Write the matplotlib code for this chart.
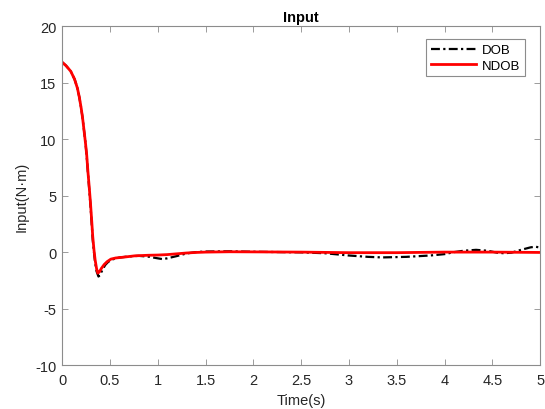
import matplotlib
matplotlib.use("Agg")
import matplotlib.pyplot as plt

# NDOB (red, solid)
t_ndob = [0, 0.04, 0.09, 0.13, 0.16, 0.18, 0.20, 0.215, 0.23, 0.245, 0.257, 0.27, 0.283,
          0.296, 0.31, 0.32, 0.333, 0.345, 0.36, 0.373, 0.39, 0.41, 0.44, 0.47, 0.51, 0.56,
          0.65, 0.76, 0.90, 1.00, 1.10, 1.20, 1.30, 1.40, 1.50, 1.75, 2.00, 2.50, 3.00,
          3.50, 4.00, 4.50, 5.00]
u_ndob = [16.8, 16.5, 16.0, 15.3, 14.5, 13.7, 12.7, 11.8, 10.7, 9.6, 8.6, 7.1, 5.8,
          4.4, 2.7, 1.4, 0.2, -0.68, -1.45, -1.86, -1.75, -1.45, -1.1, -0.85, -0.62, -0.52,
          -0.44, -0.33, -0.28, -0.26, -0.22, -0.15, -0.08, -0.03, 0.0, 0.03, 0.02, 0.0, -0.05,
          -0.05, 0.0, 0.0, -0.03]

# DOB (black, dash-dot)
t_dob = [0, 0.04, 0.09, 0.13, 0.16, 0.18, 0.20, 0.215, 0.23, 0.245, 0.257, 0.27, 0.283,
         0.296, 0.31, 0.32, 0.333, 0.345, 0.36, 0.38, 0.395, 0.42, 0.45, 0.48, 0.52, 0.60,
         0.70, 0.80, 0.90, 1.00, 1.05, 1.10, 1.20, 1.30, 1.40, 1.50, 1.75, 2.00, 2.30,
         2.50, 2.75, 3.00, 3.20, 3.35, 3.60, 3.85, 4.00, 4.10, 4.20, 4.33, 4.45, 4.55,
         4.62, 4.70, 4.80, 4.90, 4.95, 5.00]
u_dob = [16.8, 16.5, 16.0, 15.3, 14.5, 13.7, 12.7, 11.8, 10.7, 9.6, 8.5, 7.0, 5.6,
         4.2, 2.4, 1.1, 0.0, -0.9, -1.7, -2.16, -2.05, -1.6, -1.15, -0.88, -0.66, -0.48,
         -0.38, -0.33, -0.4, -0.55, -0.62, -0.55, -0.35, -0.12, 0.0, 0.05, 0.07, 0.03, 0.0,
         -0.02, -0.1, -0.3, -0.42, -0.47, -0.42, -0.3, -0.18, 0.0, 0.12, 0.2, 0.12, -0.05,
         -0.1, -0.05, 0.2, 0.42, 0.48, 0.4]

xticks = [0, 0.5, 1, 1.5, 2, 2.5, 3, 3.5, 4, 4.5, 5]
xticklabels = ["0", "0.5", "1", "1.5", "2", "2.5", "3", "3.5", "4", "4.5", "5"]
yticks = [-10, -5, 0, 5, 10, 15, 20]
yticklabels = ["-10", "-5", "0", "5", "10", "15", "20"]

plt.rcParams['font.family'] = ['Liberation Sans', 'DejaVu Sans']

fig = plt.figure(figsize=(5.45, 4.1), dpi=100)
ax = fig.add_axes([0.114, 0.107, 0.877, 0.827])

ax.plot(t_dob, u_dob, color="black", linestyle=(0, (4, 1.5, 1, 1.5)), linewidth=1.6, label="DOB")
ax.plot(t_ndob, u_ndob, color="#ff0000", linestyle="-", linewidth=2.0, label="NDOB")

ax.set_xlim(0, 5)
ax.set_ylim(-10, 20)
ax.set_xticks(xticks)
ax.set_xticklabels(xticklabels)
ax.set_yticks(yticks)
ax.set_yticklabels(yticklabels)

for s in ax.spines.values():
    s.set_color("#8c8c8c")
    s.set_linewidth(0.8)
ax.tick_params(direction="in", top=True, right=True, length=4, width=0.6,
               color="#8c8c8c", labelsize=10.5, labelcolor="#262626")
ax.tick_params(axis="x", pad=6)
ax.tick_params(axis="y", pad=4)

ax.set_title("Input", fontsize=10.5, fontweight="bold", pad=4)
ax.set_xlabel("Time(s)", fontsize=10.5, color="#262626", labelpad=4)
ax.set_ylabel("Input(N·m)", fontsize=10.5, color="#262626", labelpad=5)

leg = ax.legend(loc="upper right", bbox_to_anchor=(0.969, 0.961), borderaxespad=0,
                fontsize=9.5, fancybox=False, framealpha=1, edgecolor="#8c8c8c",
                handlelength=3.4, borderpad=0.35, labelspacing=0.25, handletextpad=0.5)
leg.get_frame().set_linewidth(0.8)

fig.savefig("out.png", dpi=100)
